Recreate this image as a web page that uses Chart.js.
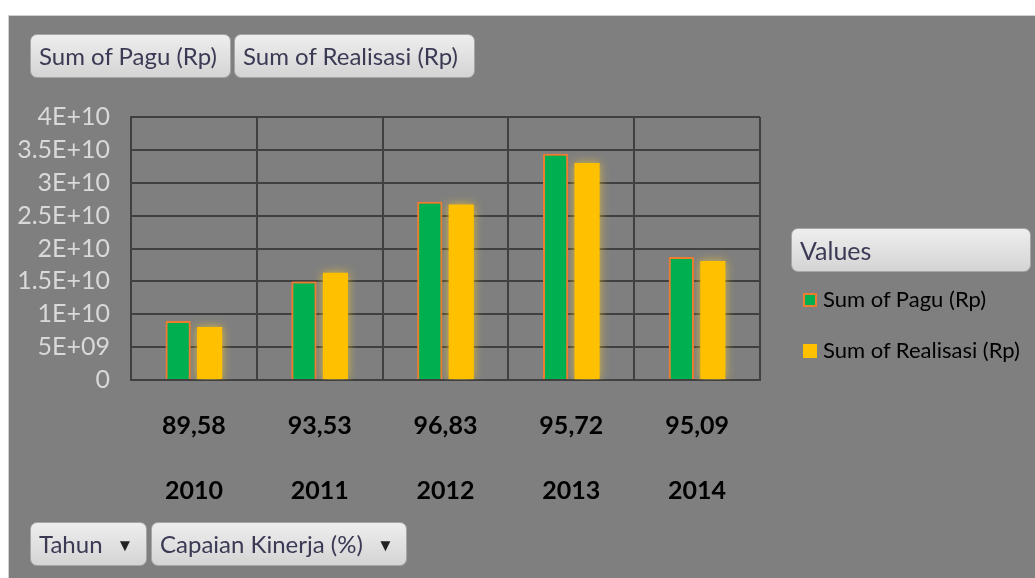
<!DOCTYPE html>
<html>
<head>
<meta charset="utf-8">
<script src="https://cdn.jsdelivr.net/npm/chart.js@4/dist/chart.umd.min.js"></script>
<style>
  html, body { margin: 0; padding: 0; background: #fff; }
  #panel { position: absolute; left: 8px; top: 15px; width: 1027px; height: 563px; background: #7f7f7f; border-left: 1px solid #d0d0d0; border-top: 1px solid #d0d0d0; box-sizing: border-box; }
  #chartBox { position: absolute; left: 0; top: 0; width: 1027px; height: 563px; }
  .btn { position: absolute; height: 44px; box-sizing: border-box; border: 1px solid #a6a6a6; border-radius: 7px;
         background: linear-gradient(#eeeeee, #d4d4d4); color: #3b3a55; font-family: Lato, sans-serif; font-size: 24px;
         line-height: 42px; padding-left: 8px; white-space: nowrap; }
  .btn .arr { font-size: 17px; margin-left: 14px; color: #222; vertical-align: 2px; }
  .leg { position: absolute; font-family: Lato, sans-serif; font-size: 22px; color: #000; white-space: nowrap; }
  .leg i { display: inline-block; width: 14px; height: 14px; box-sizing: border-box; margin-right: 6px; vertical-align: 0px; }
</style>
</head>
<body>
<div id="panel">
  <div id="chartBox"><canvas id="c"></canvas></div>
</div>
<div class="btn" style="left:30px;top:34px;width:201px;">Sum of Pagu (Rp)</div>
<div class="btn" style="left:234px;top:34px;width:241px;">Sum of Realisasi (Rp)</div>
<div class="btn" style="left:30px;top:522px;width:117px;">Tahun<span class="arr">&#9660;</span></div>
<div class="btn" style="left:151px;top:522px;width:256px;">Capaian Kinerja (%)<span class="arr">&#9660;</span></div>
<div class="btn" style="left:791px;top:228px;width:240px;font-size:25px;">Values</div>
<div id="legend"></div>
<script>
const years = ["2010", "2011", "2012", "2013", "2014"];
const capaian = ["89,58", "93,53", "96,83", "95,72", "95,09"];
const pagu = [8.97e9, 1.5e10, 2.71e10, 3.44e10, 1.87e10];
const realisasi = [8.05e9, 1.63e10, 2.67e10, 3.3e10, 1.81e10];
const seriesNames = ["Sum of Pagu (Rp)", "Sum of Realisasi (Rp)"];
const yTicks = ["0", "5E+09", "1E+10", "1.5E+10", "2E+10", "2.5E+10", "3E+10", "3.5E+10", "4E+10"];

const glow = {
  id: "glow",
  beforeDatasetDraw(chart, args) {
    const ctx = chart.ctx;
    ctx.save();
    ctx.shadowColor = args.index === 0 ? "rgba(237,125,49,0.8)" : "rgba(255,210,40,0.7)";
    ctx.shadowBlur = 10;
  },
  afterDatasetDraw(chart) { chart.ctx.restore(); }
};

new Chart(document.getElementById("c"), {
  type: "bar",
  data: {
    labels: years.map((y, i) => [capaian[i], y]),
    datasets: [
      { label: seriesNames[0], data: pagu, backgroundColor: "#00b050", borderColor: "#ed7d31", borderWidth: 2,
        categoryPercentage: 0.5, barPercentage: 0.8 },
      { label: seriesNames[1], data: realisasi, backgroundColor: "#ffc000", borderWidth: 0,
        categoryPercentage: 0.5, barPercentage: 0.8 }
    ]
  },
  options: {
    responsive: true,
    maintainAspectRatio: false,
    animation: false,
    layout: { padding: { left: 0, right: 276, top: 101, bottom: 0 } },
    plugins: { legend: { display: false }, tooltip: { enabled: false } },
    scales: {
      x: {
        grid: { color: "#404040", lineWidth: 2, drawTicks: false, offset: true },
        border: { color: "#404040", width: 2 },
        ticks: { color: "#000", font: { family: "Lato", size: 25, weight: "bold", lineHeight: 2.6 }, padding: 13, maxRotation: 0 },
        afterFit(s) { s.height = 199; }
      },
      y: {
        min: 0, max: 4e10,
        grid: { color: "#404040", lineWidth: 2, drawTicks: false },
        border: { color: "#404040", width: 2 },
        ticks: { stepSize: 5e9, autoSkip: false, color: "#d9d9d9", font: { family: "Lato", size: 25, lineHeight: 1 }, padding: 21,
                 callback: (v) => yTicks[Math.round(v / 5e9)] },
        afterFit(s) { s.width = 122; }
      }
    }
  },
  plugins: [glow, {
    id: "rightBorder",
    afterDraw(chart) {
      const { ctx, chartArea } = chart;
      ctx.save();
      ctx.strokeStyle = "#404040"; ctx.lineWidth = 2;
      ctx.beginPath(); ctx.moveTo(chartArea.right, chartArea.top); ctx.lineTo(chartArea.right, chartArea.bottom); ctx.stroke();
      ctx.restore();
    }
  }]
});

// legend
const legColors = [["#00b050", "2px solid #ed7d31"], ["#ffc000", "none"]];
const legTop = [285, 336];
document.getElementById("legend").innerHTML = seriesNames.map((n, i) =>
  `<div class="leg" style="left:803px;top:${legTop[i]}px;"><i style="background:${legColors[i][0]};border:${legColors[i][1]}"></i>${n}</div>`
).join("");
</script>
</body>
</html>
